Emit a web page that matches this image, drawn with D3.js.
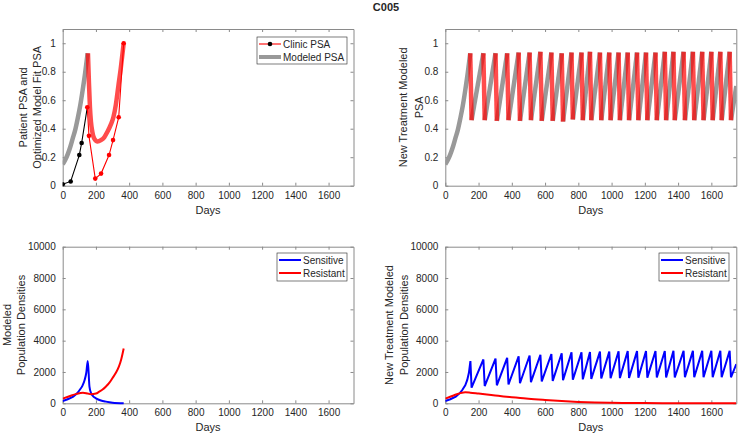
<!DOCTYPE html>
<html>
<head>
<meta charset="utf-8">
<script src="https://cdn.jsdelivr.net/npm/d3@7"></script>
<style>
  body { margin: 0; background: #fff; }
  text { font-family: "Liberation Sans", Arial, Helvetica, sans-serif; fill: #262626; }
</style>
</head>
<body>
<script>
  // ---- данные ----
  let dayTicks = [0, 200, 400, 600, 800, 1000, 1200, 1400, 1600];
  let psaTicks = [0, 0.2, 0.4, 0.6, 0.8, 1];
  let popTicks = [0, 2000, 4000, 6000, 8000, 10000];

  // клинические замеры PSA (нормированные)
  let clinicDays  = [0, 48, 100, 114, 148, 158, 196, 231, 279, 303, 337, 367];
  let clinicPSA   = [0.01, 0.03, 0.215, 0.30, 0.55, 0.35, 0.05, 0.085, 0.215, 0.32, 0.48, 1.0];
  let clinicOn    = [0, 0, 0, 0, 1, 1, 1, 1, 1, 1, 1, 1];

  // модель, подогнанная к пациенту
  let fitOffDays = [0, 15, 30, 45, 60, 75, 90, 105, 120, 135, 150];
  let fitOffPSA  = [0.15, 0.18, 0.22, 0.27, 0.33, 0.39, 0.47, 0.56, 0.67, 0.79, 0.93];
  let fitOnDays  = [152, 158, 164, 170, 178, 190, 210, 230, 250, 270, 290, 305, 320, 335, 350, 367];
  let fitOnPSA   = [0.93, 0.72, 0.55, 0.45, 0.38, 0.33, 0.31, 0.32, 0.34, 0.38, 0.43, 0.48, 0.57, 0.70, 0.83, 1.0];

  // популяции (подгонка)
  let sensDays = [0, 30, 63, 90, 102, 120, 132, 142, 151, 161, 171, 185, 200, 230, 260, 300, 367];
  let sensPop  = [150, 260, 425, 680, 850, 1150, 1490, 1950, 2700, 1060, 640, 430, 320, 180, 106, 40, 5];
  let resDays  = [0, 40, 82, 122, 151, 170, 200, 220, 240, 259, 280, 299, 320, 338, 352, 367];
  let resPop   = [300, 450, 600, 680, 620, 580, 620, 745, 880, 1060, 1300, 1600, 1950, 2340, 2800, 3500];

  // новая схема лечения: циклы
  let cycleOnDays  = [150, 229, 302, 372, 441, 507, 572, 638, 700, 759, 819, 870, 930, 986, 1042, 1097, 1153, 1207, 1264, 1320, 1372, 1433, 1489, 1545, 1600, 1654, 1710];
  let cycleOffDays = [158, 237, 310, 380, 449, 515, 580, 646, 708, 767, 827, 878, 938, 994, 1050, 1105, 1161, 1215, 1272, 1328, 1380, 1441, 1497, 1553, 1608, 1662, 1718];
  let cyclePeakPSA   = [0.93, 0.93, 0.93, 0.93, 0.935, 0.935, 0.94, 0.935, 0.93, 0.935, 0.935, 0.94, 0.935, 0.935, 0.935, 0.935, 0.935, 0.935, 0.935, 0.94, 0.94, 0.94, 0.94, 0.94, 0.94, 0.94, 0.94];
  let cycleTroughPSA = [0.46, 0.46, 0.455, 0.46, 0.455, 0.46, 0.455, 0.455, 0.45, 0.465, 0.46, 0.46, 0.46, 0.46, 0.46, 0.46, 0.46, 0.46, 0.46, 0.46, 0.46, 0.46, 0.46, 0.46, 0.46, 0.46, 0.46];
  let cyclePeakSens   = [2700, 2800, 2850, 2900, 3000, 3050, 3100, 3150, 3200, 3250, 3250, 3280, 3300, 3300, 3320, 3330, 3330, 3340, 3340, 3340, 3350, 3350, 3350, 3350, 3350, 3350, 3350];
  let cycleTroughSens = [1000, 1100, 1150, 1200, 1280, 1350, 1400, 1430, 1470, 1500, 1530, 1560, 1580, 1600, 1610, 1620, 1630, 1640, 1650, 1650, 1650, 1660, 1660, 1660, 1660, 1660, 1660];
  let endDay = 1750, endPSA = 0.70, endSens = 2500;

  let newResDays = [0, 50, 100, 120, 150, 200, 250, 300, 350, 400, 450, 500, 600, 700, 800, 900, 1000, 1100, 1200, 1400, 1750];
  let newResPop  = [300, 500, 680, 700, 680, 620, 560, 500, 440, 390, 340, 290, 210, 140, 90, 55, 35, 20, 12, 5, 2];

  // ---- рисуем ----
  let W = 738, H = 436;
  let svg = d3.select('body').append('svg').attr('width', W).attr('height', H);

  let gray = '#999999', red = 'rgba(255,0,0,0.7)', axisColor = '#8a8a8a';

  svg.append('text').attr('x', 386).attr('y', 11).attr('text-anchor', 'middle')
     .style('font-size', '11px').style('font-weight', 'bold').text('C005');

  function panel(box, yDomain, yTicks, yFmt, ylabel, ylabelX) {
    let x = d3.scaleLinear().domain([0, 1750]).range([box.l, box.r]);
    let y = d3.scaleLinear().domain(yDomain).range([box.b, box.t]);
    let g = svg.append('g');

    let axes = [
      [d3.axisBottom(x).tickValues(dayTicks).tickFormat(d3.format('d')), box.b, 0, true, 6],
      [d3.axisTop(x).tickValues(dayTicks), box.t, 0, false, 0],
      [d3.axisLeft(y).tickValues(yTicks).tickFormat(yFmt), 0, box.l, true, 7],
      [d3.axisRight(y).tickValues(yTicks), 0, box.r, false, 0]
    ];
    axes.forEach(([ax, ty, tx, labels, pad]) => {
      ax.tickSizeInner(-3).tickSizeOuter(0).tickPadding(pad);
      if (!labels) ax.tickFormat('');
      let a = g.append('g').attr('transform', `translate(${tx},${ty})`).call(ax);
      a.select('.domain').attr('stroke', axisColor);
      a.selectAll('.tick line').attr('stroke', axisColor);
      a.selectAll('text').style('font-size', '10px').attr('fill', '#262626')
        .style('font-family', '"Liberation Sans", Arial, sans-serif');
    });

    g.append('text').attr('x', (box.l + box.r) / 2).attr('y', box.b + 28)
     .attr('text-anchor', 'middle').style('font-size', '11px').text('Days');

    // ylabelX — положение базовой линии повернутого текста
    ylabel.forEach((s, i) => {
      g.append('text')
       .attr('transform', `translate(${ylabelX[i]},${(box.t + box.b) / 2}) rotate(-90)`)
       .attr('text-anchor', 'middle').style('font-size', '11px').text(s);
    });

    let clipId = 'clip' + Math.round(box.l) + Math.round(box.t);
    svg.append('clipPath').attr('id', clipId).append('rect')
       .attr('x', box.l).attr('y', box.t - 5).attr('width', box.r - box.l).attr('height', box.b - box.t + 10);
    let plot = svg.append('g').attr('clip-path', `url(#${clipId})`);
    return { x, y, g, plot };
  }

  function legend(g, bx, by, bw, bh, items) {
    g.append('rect').attr('x', bx).attr('y', by).attr('width', bw).attr('height', bh)
     .attr('fill', '#fff').attr('stroke', '#262626').attr('stroke-width', 0.6);
    items.forEach((it, i) => {
      let cy = by + 7 + i * 13;
      g.append('line').attr('x1', bx + 2).attr('x2', bx + 24).attr('y1', cy).attr('y2', cy)
       .attr('stroke', it.color).attr('stroke-width', it.width);
      if (it.marker) g.append('circle').attr('cx', bx + 13).attr('cy', cy).attr('r', 2.3).attr('fill', it.marker);
      g.append('text').attr('x', bx + 26).attr('y', cy + 3.6).style('font-size', '10px').text(it.label);
    });
  }

  let zip = (a, b) => a.map((d, i) => [d, b[i]]);

  // --- верхний левый ---
  let tl = panel({ l: 62.7, r: 353.5, t: 29, b: 185.7 }, [0, 1.1], psaTicks, d3.format('~g'),
                 ['Patient PSA and', 'Optimized Model Fit PSA'], [27, 41]);
  let lineTL = d3.line().x(d => tl.x(d[0])).y(d => tl.y(d[1])).curve(d3.curveMonotoneX);
  tl.plot.append('path').attr('d', lineTL(zip(fitOffDays, fitOffPSA)))
    .attr('fill', 'none').attr('stroke', gray).attr('stroke-width', 4.5);
  tl.plot.append('path').attr('d', lineTL(zip(fitOnDays, fitOnPSA)))
    .attr('fill', 'none').attr('stroke', red).attr('stroke-width', 4.5);

  let clinic = clinicDays.map((d, i) => ({ day: d, v: clinicPSA[i], on: clinicOn[i] }));
  let firstOn = clinicOn.indexOf(1);
  let clinicOff = clinic.slice(0, firstOn + 1), clinicOnPts = clinic.slice(firstOn);
  let lineC = d3.line().x(d => tl.x(d.day)).y(d => tl.y(d.v));
  tl.plot.append('path').attr('d', lineC(clinicOff)).attr('fill', 'none').attr('stroke', '#000').attr('stroke-width', 1.1);
  tl.plot.append('path').attr('d', lineC(clinicOnPts)).attr('fill', 'none').attr('stroke', '#f00').attr('stroke-width', 1.1);
  tl.plot.selectAll('circle').data(clinic).enter().append('circle')
    .attr('cx', d => tl.x(d.day)).attr('cy', d => tl.y(d.v)).attr('r', 2.3)
    .attr('fill', d => d.on ? '#f00' : '#000');
  legend(tl.g, 257, 37, 90, 27, [
    { label: 'Clinic PSA', color: '#f00', width: 1.1, marker: '#000' },
    { label: 'Modeled PSA', color: gray, width: 4 }
  ]);

  // --- верхний правый ---
  let tr = panel({ l: 445.3, r: 736.3, t: 29, b: 185.7 }, [0, 1.1], psaTicks, d3.format('~g'),
                 ['New Treatment Modeled', 'PSA'], [407, 423]);
  let lineTR = d3.line().x(d => tr.x(d[0])).y(d => tr.y(d[1]));
  let offSegs = [zip(fitOffDays, fitOffPSA)];
  cycleOffDays.forEach((d, i) => {
    let next = i + 1 < cycleOnDays.length ? [cycleOnDays[i + 1], cyclePeakPSA[i + 1]] : [endDay, endPSA];
    offSegs.push([[d, cycleTroughPSA[i]], next]);
  });
  let onSegs = cycleOnDays.map((d, i) => [[d, cyclePeakPSA[i]], [cycleOffDays[i], cycleTroughPSA[i]]]);
  tr.plot.selectAll('.off').data(offSegs).enter().append('path').attr('class', 'off')
    .attr('d', (s, i) => i === 0 ? lineTR.curve(d3.curveMonotoneX)(s) : lineTR.curve(d3.curveLinear)(s))
    .attr('fill', 'none').attr('stroke', gray).attr('stroke-width', 4.5);
  tr.plot.selectAll('.on').data(onSegs).enter().append('path').attr('class', 'on')
    .attr('d', lineTR.curve(d3.curveLinear))
    .attr('fill', 'none').attr('stroke', red).attr('stroke-width', 4.5);

  // --- нижний левый ---
  let bl = panel({ l: 62.7, r: 353.5, t: 246.7, b: 403.3 }, [0, 10000], popTicks, d3.format('d'),
                 ['Modeled', 'Population Densities'], [11, 25]);
  let lineBL = d3.line().x(d => bl.x(d[0])).y(d => bl.y(d[1])).curve(d3.curveMonotoneX);
  bl.plot.append('path').attr('d', lineBL(zip(sensDays, sensPop)))
    .attr('fill', 'none').attr('stroke', '#00f').attr('stroke-width', 2);
  bl.plot.append('path').attr('d', lineBL(zip(resDays, resPop)))
    .attr('fill', 'none').attr('stroke', '#f00').attr('stroke-width', 2);
  legend(bl.g, 277, 253, 70, 28, [
    { label: 'Sensitive', color: '#00f', width: 2 },
    { label: 'Resistant', color: '#f00', width: 2 }
  ]);

  // --- нижний правый ---
  let br = panel({ l: 445.3, r: 736.3, t: 246.7, b: 403.3 }, [0, 10000], popTicks, d3.format('d'),
                 ['New Treatment Modeled', 'Population Densities'], [393, 408]);
  let lineBR = d3.line().x(d => br.x(d[0])).y(d => br.y(d[1]));
  let sensPts = zip(sensDays.slice(0, 9), sensPop.slice(0, 9));
  cycleOnDays.forEach((d, i) => {
    if (i > 0) sensPts.push([d, cyclePeakSens[i]]);
    sensPts.push([cycleOffDays[i], cycleTroughSens[i]]);
  });
  sensPts.push([endDay, endSens]);
  br.plot.append('path').attr('d', lineBR(sensPts))
    .attr('fill', 'none').attr('stroke', '#00f').attr('stroke-width', 2);
  br.plot.append('path').attr('d', lineBR.curve(d3.curveMonotoneX)(zip(newResDays, newResPop)))
    .attr('fill', 'none').attr('stroke', '#f00').attr('stroke-width', 2);
  legend(br.g, 659, 253, 70, 28, [
    { label: 'Sensitive', color: '#00f', width: 2 },
    { label: 'Resistant', color: '#f00', width: 2 }
  ]);
</script>
</body>
</html>
